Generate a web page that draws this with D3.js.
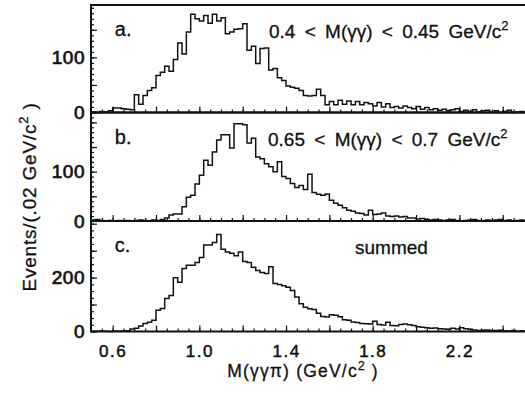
<!DOCTYPE html>
<html>
<head>
<meta charset="utf-8">
<script src="https://cdn.jsdelivr.net/npm/d3@7"></script>
<style>
  body { margin: 0; background: #fff; }
  svg { display: block; font-family: "Liberation Sans", Arial, sans-serif; }
</style>
</head>
<body>
<svg id="chart" width="525" height="397"></svg>
<script>
// histogram binning: 0.02 GeV/c^2 bins from 0.5 to 2.5
const massLow = 0.5;
const binWidth = 0.02;

// events per bin, M(gg) in 0.40-0.45
const countsA = [
  1, 0, 2, 1, 3, 8, 8, 7, 6, 5,
  32, 15, 31, 40, 45, 67, 73, 84, 75, 96,
  126, 106, 146, 178, 170, 166, 176, 162, 178, 166,
  172, 143, 146, 151, 152, 161, 113, 120, 89, 116,
  117, 77, 80, 63, 58, 48, 46, 44, 40, 31,
  30, 31, 42, 31, 14, 20, 14, 22, 15, 21,
  14, 20, 14, 18, 16, 12, 18, 10, 16, 9,
  11, 8, 12, 9, 7, 11, 6, 9, 5, 7,
  4, 6, 3, 5, 7, 2, 4, 2, 5, 1,
  3, 4, 1, 3, 0, 2, 4, 0, 1, 2
];

// events per bin, M(gg) in 0.65-0.70
const countsB = [
  2, 3, 1, 0, 1, 0, 1, 0, 1, 0,
  1, 2, 1, 0, 2, 1, 3, 6, 12, 14,
  14, 29, 48, 52, 75, 93, 123, 113, 140, 164,
  175, 175, 148, 197, 197, 195, 158, 168, 130, 126,
  116, 110, 100, 120, 90, 86, 76, 68, 72, 64,
  95, 58, 54, 52, 55, 42, 36, 32, 27, 22,
  20, 16, 15, 12, 22, 13, 14, 16, 10, 9,
  10, 8, 9, 6, 6, 4, 5, 3, 2, 3,
  2, 1, 2, 3, 1, 0, 1, 2, 3, 1,
  0, 2, 1, 2, 3, 1, 2, 0, 1, 2
];

// summed
const countsC = [
  1, 1, 2, 1, 0, 2, 1, 2, 3, 9,
  12, 20, 30, 34, 42, 79, 85, 122, 134, 199,
  183, 234, 246, 246, 256, 275, 321, 321, 330, 360,
  305, 295, 290, 281, 295, 260, 256, 238, 226, 219,
  215, 240, 178, 174, 170, 164, 152, 128, 103, 90,
  84, 82, 68, 56, 54, 62, 60, 55, 44, 42,
  35, 33, 30, 29, 28, 38, 26, 24, 34, 22,
  21, 26, 28, 25, 22, 18, 16, 14, 12, 13,
  10, 9, 8, 12, 9, 14, 10, 8, 6, 4,
  5, 6, 3, 4, 5, 3, 2, 4, 1, 3
];

const panelTags = ["a.", "b.", "c."];
const panelNotes = ["0.4 < M(\u03B3\u03B3) < 0.45 GeV/c", "0.65 < M(\u03B3\u03B3) < 0.7 GeV/c", "summed"];
const yMaxes = [195, 220, 410];
const yLabelTicks = [[0, 100], [0, 100], [0, 200]];
const yMidTicks = [d3.range(0, 200, 50), d3.range(0, 221, 50), d3.range(0, 401, 100)];
const yMinorTicks = [d3.range(0, 196, 10), d3.range(0, 221, 10), d3.range(0, 410, 25)];
const xLabelTicks = [0.6, 1.0, 1.4, 1.8, 2.2];
const xMidTicks = d3.range(0.6, 2.45, 0.2);
const xMinorTicks = d3.range(0.55, 2.5, 0.05);

const svg = d3.select("#chart");
const left = 91, right = 524.4;
const panelTops = [5, 112.5, 221];
const panelBottoms = [112.5, 221, 331.5];
const ink = "#111";

const x = d3.scaleLinear().domain([0.5, 2.5]).range([left, right]);

const panels = [countsA, countsB, countsC];

panels.forEach((counts, p) => {
  const y = d3.scaleLinear().domain([0, yMaxes[p]]).range([panelBottoms[p], panelTops[p]]);
  const g = svg.append("g");

  // histogram as a step line
  const pts = counts.map((c, i) => [massLow + i * binWidth, c]);
  pts.push([massLow + counts.length * binWidth, counts[counts.length - 1]]);
  const line = d3.line()
    .x(d => x(d[0]))
    .y(d => y(d[1]))
    .curve(d3.curveStepAfter);
  g.append("path")
    .datum(pts)
    .attr("d", line)
    .attr("fill", "none")
    .attr("stroke", ink)
    .attr("stroke-width", 1.5);

  // inward ticks on left axis
  const yAxisMinor = d3.axisRight(y).tickValues(yMinorTicks[p]).tickSize(3).tickFormat("");
  const yAxisMid = d3.axisRight(y).tickValues(yMidTicks[p]).tickSize(6).tickFormat("");
  [yAxisMinor, yAxisMid].forEach(ax => {
    g.append("g").attr("transform", `translate(${left},0)`).call(ax)
      .call(s => s.select(".domain").remove())
      .selectAll("line").attr("stroke", ink).attr("stroke-width", 1.2);
  });

  // tick labels on the left
  const yAxisLab = d3.axisLeft(y).tickValues(yLabelTicks[p]).tickSize(0).tickPadding(6).tickFormat(d3.format("d"));
  g.append("g").attr("transform", `translate(${left},0)`).call(yAxisLab)
    .call(s => s.select(".domain").remove())
    .selectAll("text")
    .attr("font-family", "Liberation Sans, Arial, sans-serif")
    .attr("font-size", 19)
    .attr("letter-spacing", 0.5)
    .attr("fill", ink)
    .attr("stroke", ink)
    .attr("stroke-width", 0.7);

  // inward ticks on the bottom edge
  const xAxisMinor = d3.axisTop(x).tickValues(xMinorTicks).tickSize(3).tickFormat("");
  const xAxisMid = d3.axisTop(x).tickValues(xMidTicks).tickSize(6).tickFormat("");
  [xAxisMinor, xAxisMid].forEach(ax => {
    g.append("g").attr("transform", `translate(0,${panelBottoms[p]})`).call(ax)
      .call(s => s.select(".domain").remove())
      .selectAll("line").attr("stroke", ink).attr("stroke-width", 1.2);
  });

  // frame
  g.append("path")
    .attr("d", `M${right + 2},${panelTops[p]}H${left}V${panelBottoms[p]}H${right + 2}`)
    .attr("fill", "none")
    .attr("stroke", ink)
    .attr("stroke-width", 2);

  // panel letter
  g.append("text")
    .attr("x", x(0.61))
    .attr("y", panelTops[p] + 31)
    .attr("font-size", 20)
    .attr("fill", ink)
    .attr("stroke", ink)
    .attr("stroke-width", 0.3)
    .text(panelTags[p]);

  // panel note
  const note = g.append("text")
    .attr("y", panelTops[p] + 33)
    .attr("font-size", 19)
    .attr("fill", ink)
    .attr("stroke", ink)
    .attr("stroke-width", 0.3)
    .attr("word-spacing", 4);
  if (p < 2) {
    note.attr("x", p === 0 ? 269 : 268);
    note.append("tspan").text(panelNotes[p]);
    note.append("tspan").attr("dy", -8).attr("font-size", 13).text("2");
  } else {
    note.attr("x", 355).text(panelNotes[p]);
  }
});

// x tick labels under the bottom panel
const xAxisLab = d3.axisBottom(x).tickValues(xLabelTicks).tickSize(0).tickPadding(13).tickFormat(d3.format(".1f"));
svg.append("g").attr("transform", `translate(0,${panelBottoms[2]})`).call(xAxisLab)
  .call(s => s.select(".domain").remove())
  .selectAll("text")
  .attr("font-family", "Liberation Sans, Arial, sans-serif")
  .attr("font-size", 17)
  .attr("letter-spacing", 1.5)
  .attr("fill", ink)
  .attr("stroke", ink)
  .attr("stroke-width", 0.5);

// axis titles
const xTitle = svg.append("text")
  .attr("x", 303)
  .attr("y", 377)
  .attr("text-anchor", "middle")
  .attr("font-size", 17.5)
  .attr("letter-spacing", 1.2)
  .attr("fill", ink)
  .attr("stroke", ink)
  .attr("stroke-width", 0.3);
xTitle.append("tspan").text("M(\u03B3\u03B3\u03C0)  (GeV/c");
xTitle.append("tspan").attr("dy", -7).attr("font-size", 12).text("2");
xTitle.append("tspan").attr("dy", 7).text(" )");

const yTitle = svg.append("text")
  .attr("transform", "translate(36,197) rotate(-90)")
  .attr("text-anchor", "middle")
  .attr("font-size", 19)
  .attr("letter-spacing", 0.8)
  .attr("fill", ink)
  .attr("stroke", ink)
  .attr("stroke-width", 0.3);
yTitle.append("tspan").text("Events/(.02  GeV/c");
yTitle.append("tspan").attr("dy", -8).attr("font-size", 13).text("2");
yTitle.append("tspan").attr("dy", 8).text(" )");
</script>
</body>
</html>
